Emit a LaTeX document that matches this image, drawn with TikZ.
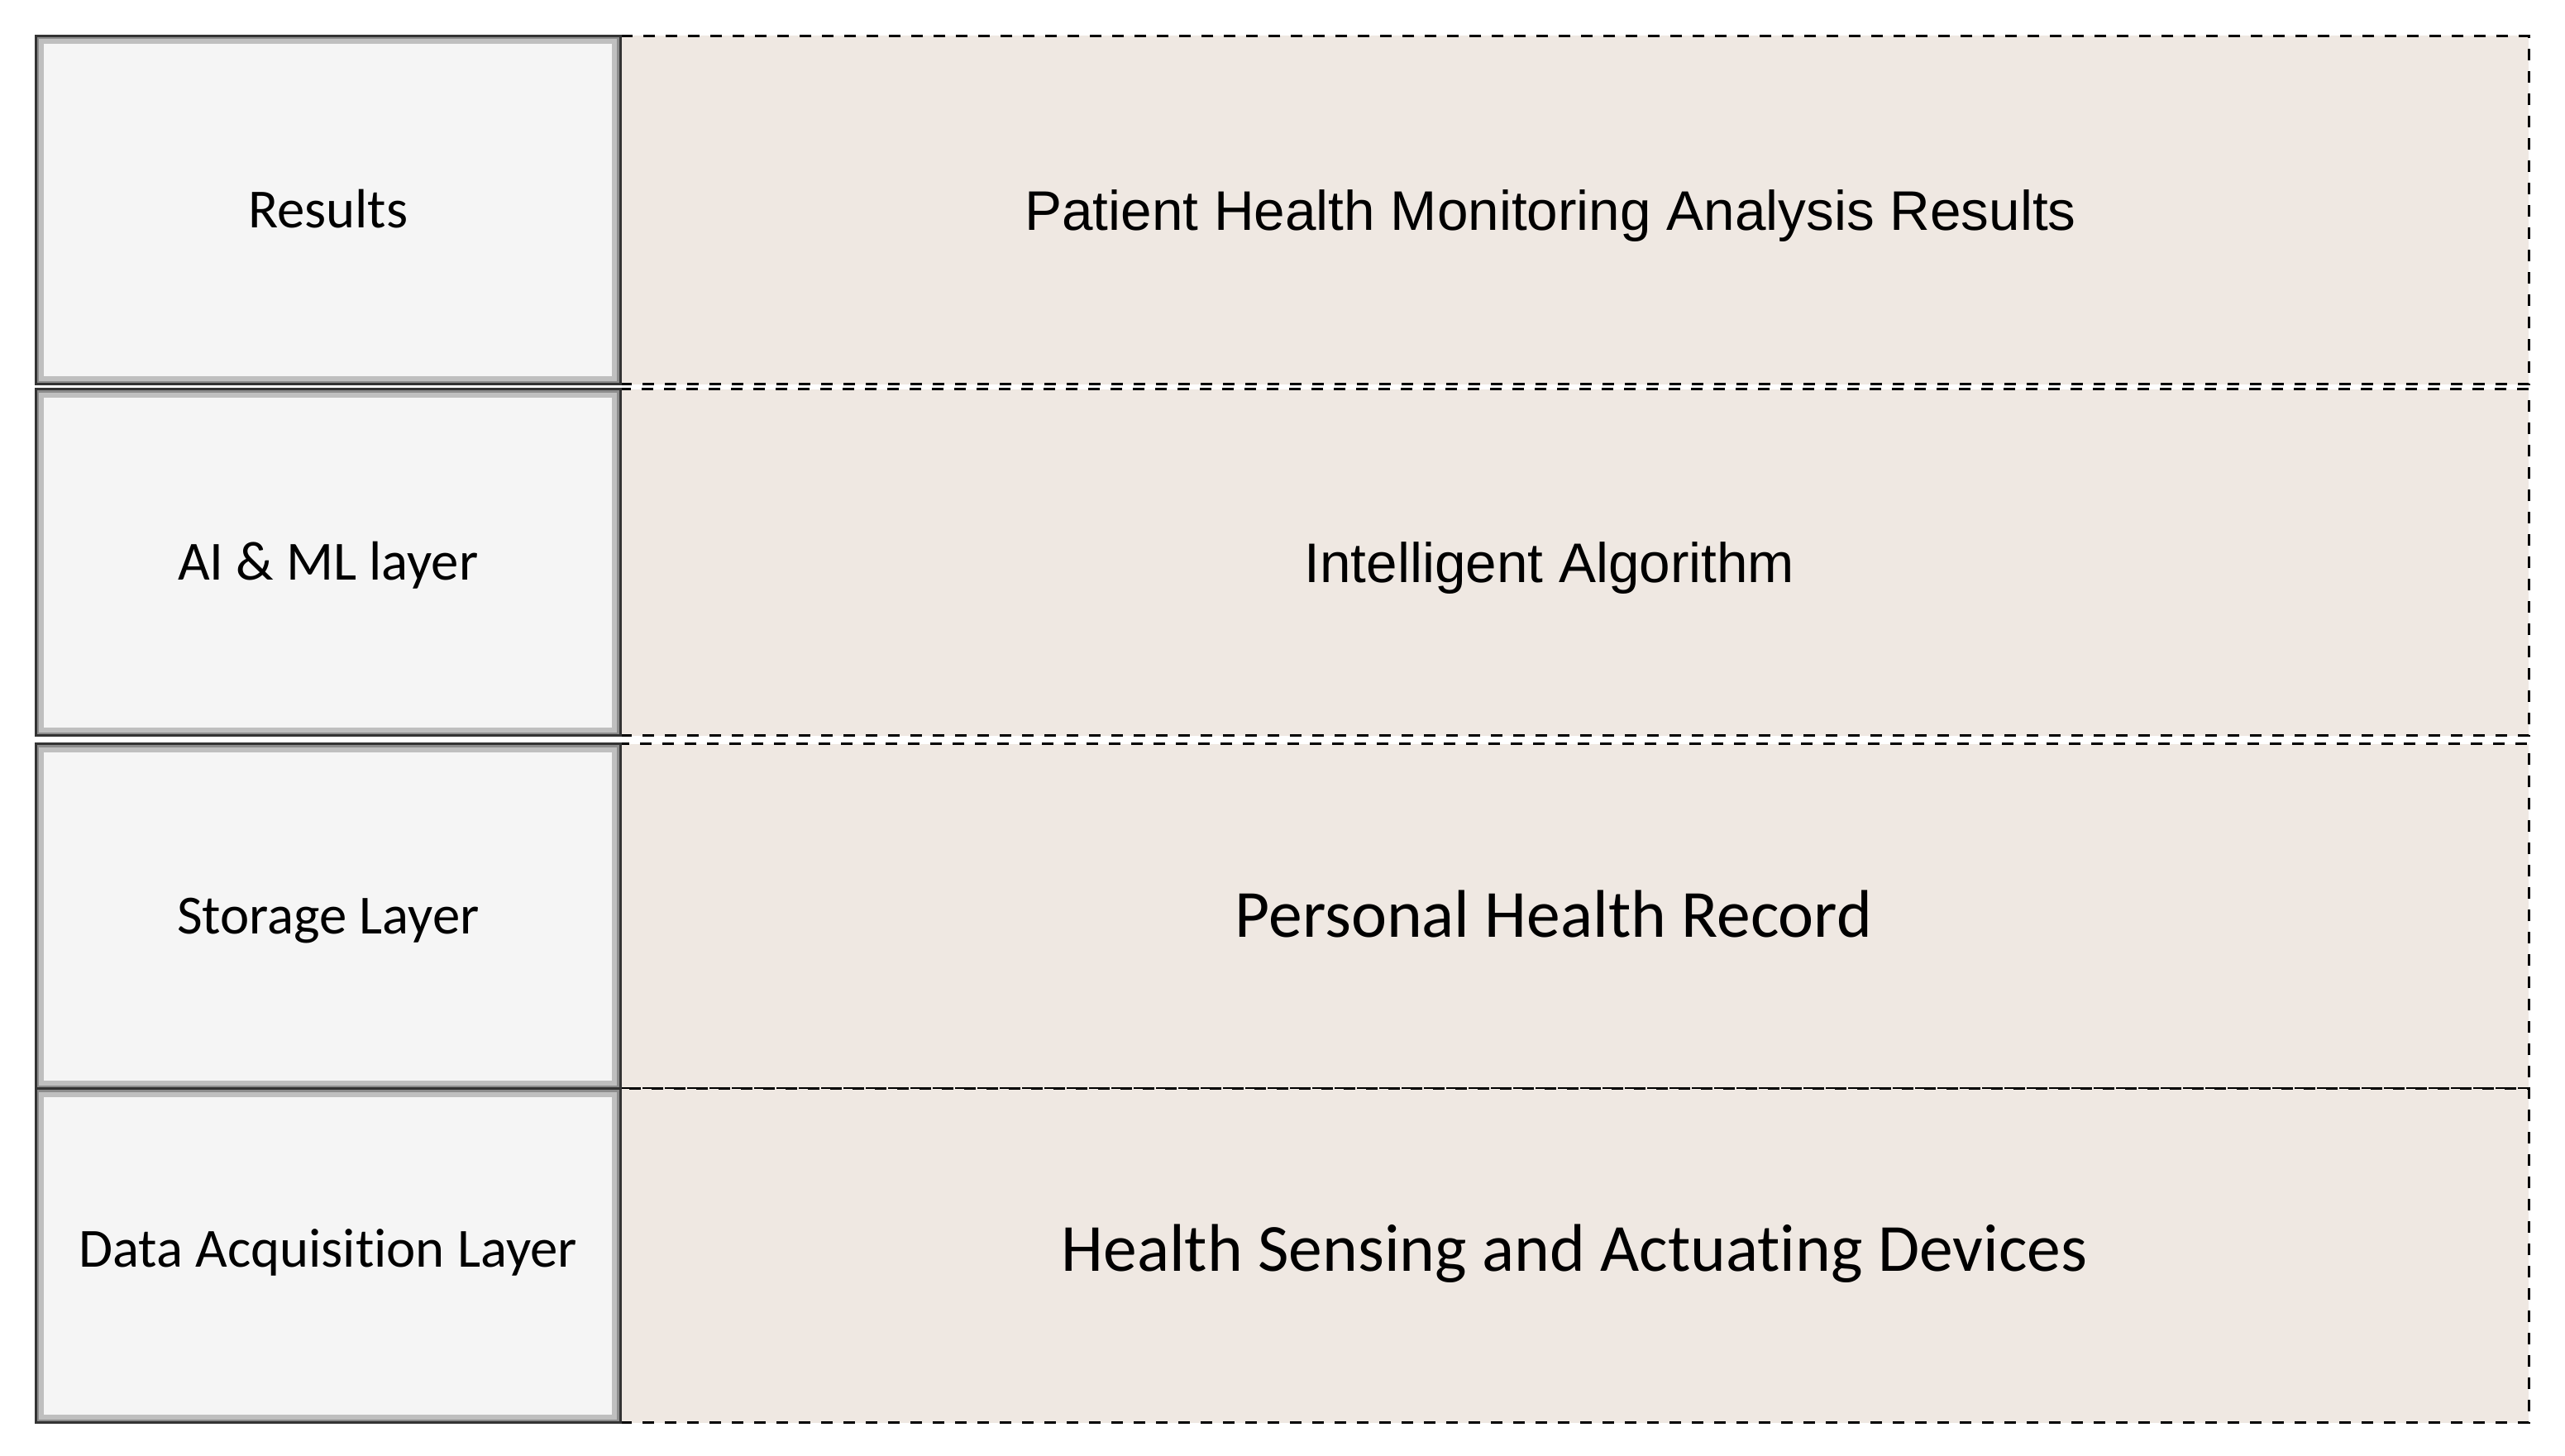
\documentclass[tikz,border=0pt]{standalone}
\usepackage{fontspec}
\setmainfont{Carlito}[Ligatures=CommonOff]
\newfontfamily\arialfont{Liberation Sans}
\usepackage{tikz}
\usetikzlibrary{positioning,calc}

\definecolor{layerfill}{RGB}{245,245,245}
\definecolor{contentfill}{RGB}{239,232,226}

\tikzset{
  layerbox/.style={rectangle, draw=black!80, line width=0.03cm, fill=layerfill,
    minimum width=7.065cm, inner sep=0pt, outer sep=0pt,
    font=\fontsize{19}{23}\selectfont, text height=12pt, text depth=0pt,
    path picture={
      \draw[black!25, line width=0.2cm] (path picture bounding box.south west) rectangle (path picture bounding box.north east);
      \draw[black!45, line width=0.08cm] (path picture bounding box.south west) rectangle (path picture bounding box.north east);
    }},
  contentbox/.style={rectangle, draw=black, line width=0.03cm, fill=contentfill,
    dash pattern=on 0.14cm off 0.13cm, minimum width=23.08cm,
    inner sep=0pt, outer sep=0pt},
  arialtxt/.style={font=\arialfont\fontsize{19.2}{23}\selectfont, text height=13.7pt, text depth=0pt},
  calitxt/.style={font=\fontsize{23.2}{28}\selectfont, text height=14.6pt, text depth=0pt}
}

\begin{document}
\begin{tikzpicture}
      \useasboundingbox (0,0) rectangle (31.02,17.60);
      % right hand content boxes
      \node[contentbox, minimum height=4.215cm](resR) at (19.04,15.06){};
      \node[contentbox, minimum height=4.19cm, below=0.06cm of resR](aimlR){};
      \node[contentbox, minimum height=4.17cm, below=0.10cm of aimlR](storR){};
      \node[contentbox, minimum height=4.04cm, below=0cm of storR](acqR){};
      %
      % layer names
      \node[layerbox, minimum height=4.215cm, left=0cm of resR](res){Results};
      \node[layerbox, minimum height=4.19cm, left=0cm of aimlR](aiml){AI \& ML layer};
      \node[layerbox, minimum height=4.17cm, left=0cm of storR](stor){Storage Layer};
      \node[layerbox, minimum height=4.04cm, text depth=4pt, left=0cm of acqR](acq){Data Acquisition Layer};
      %
      \node[arialtxt] at($(resR.center)+(-0.29,0)$)(resT){Patient Health Monitoring Analysis Results};
      \node[arialtxt] at($(aimlR.center)+(-0.30,0)$)(aimlT){Intelligent Algorithm};
      \node[calitxt] at($(storR.center)+(-0.25,0)$)(storT){Personal Health Record};
      \node[calitxt] at($(acqR.center)+(0,0.07)$)(acqT){Health Sensing and Actuating Devices};
    \end{tikzpicture}
\end{document}
